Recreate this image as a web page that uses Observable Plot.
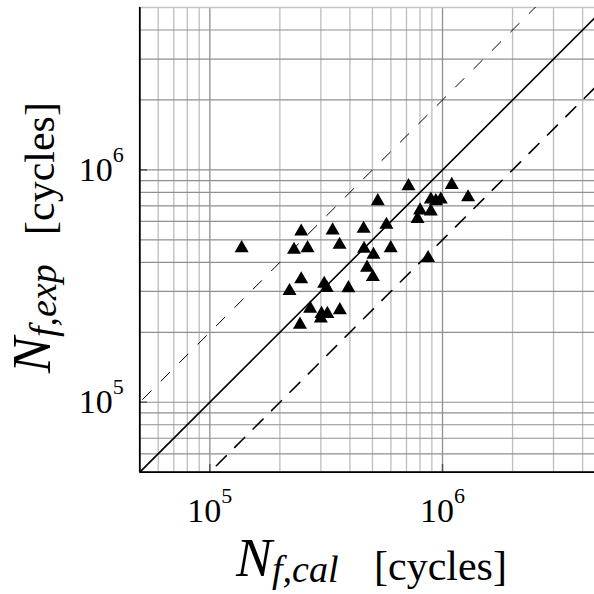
<!DOCTYPE html>
<html>
<head>
<meta charset="utf-8">
<script src="https://cdn.jsdelivr.net/npm/d3@7"></script>
<script src="https://cdn.jsdelivr.net/npm/@observablehq/plot@0.6"></script>
<style>
  html, body { margin: 0; padding: 0; background: #fff; overflow: hidden; }
  svg { display: block; }
</style>
</head>
<body>
<div id="chart"></div>
<script>
// Calculated fatigue life (x) and experimental fatigue life (y), cycles
const nfCal = [1.37e5, 2.47e5, 3.37e5, 2.30e5, 2.63e5, 3.61e5, 4.58e5, 5.27e5, 7.14e5, 1.096e6,
               1.288e6, 8.91e5, 9.36e5, 9.83e5, 8.01e5, 8.91e5, 7.81e5, 5.74e5, 4.60e5, 5.05e5,
               5.99e5, 4.74e5, 5.02e5, 8.67e5, 2.47e5, 2.20e5, 3.10e5, 3.18e5, 3.94e5, 2.70e5,
               3.02e5, 3.20e5, 3.62e5, 2.44e5, 3.00e5];
const nfExp = [4.70e5, 5.54e5, 5.60e5, 4.62e5, 4.70e5, 4.86e5, 5.69e5, 7.48e5, 8.68e5, 8.79e5,
               7.78e5, 7.61e5, 7.48e5, 7.61e5, 6.83e5, 6.76e5, 6.28e5, 5.92e5, 4.67e5, 4.40e5,
               4.70e5, 3.87e5, 3.53e5, 4.26e5, 3.45e5, 3.07e5, 3.30e5, 3.17e5, 3.16e5, 2.58e5,
               2.45e5, 2.45e5, 2.54e5, 2.20e5, 2.34e5];

// axis extents and ticks
const xDomain = [5e4, 4.5e6];
const yDomain = [5e4, 5e6];
const majorTicks = [1e5, 1e6];
const xGridTicks = [5e4, 6e4, 7e4, 8e4, 9e4, 1e5, 2e5, 3e5, 4e5, 5e5, 6e5, 7e5, 8e5, 9e5, 1e6, 2e6, 3e6, 4e6];
const yGridTicks = [5e4, 6e4, 7e4, 8e4, 9e4, 1e5, 2e5, 3e5, 4e5, 5e5, 6e5, 7e5, 8e5, 9e5, 1e6, 2e6, 3e6, 4e6];
const topLine = [5e6];

// scatter band: y = factor * x
const bandFactors = [1, 2, 0.5];
const lineSpan = [1e4, 1e7];

const points = nfCal.map((x, i) => ({x, y: nfExp[i]}));
const refLine = f => lineSpan.map(v => ({x: v, y: v * f}));

const serif = "'Liberation Serif', 'Times New Roman', Times, serif";

const plot = Plot.plot({
  width: 594,
  height: 594,
  marginLeft: 139.3,
  marginRight: 0,
  marginTop: 7,
  marginBottom: 122.3,
  style: {fontFamily: serif, fontSize: "34px", background: "#fff", color: "#000"},
  x: {type: "log", domain: xDomain},
  y: {type: "log", domain: yDomain},
  marks: [
    Plot.gridX(xGridTicks.filter(d => !majorTicks.includes(d)), {stroke: "#bdbdbd", strokeOpacity: 1, strokeWidth: 1.3}),
    Plot.gridX(majorTicks, {stroke: "#8f8f8f", strokeOpacity: 1, strokeWidth: 1.3}),
    Plot.gridY(yGridTicks, {stroke: "#8f8f8f", strokeOpacity: 1, strokeWidth: 1.2}),
    Plot.gridY(topLine, {stroke: "#c4c4c4", strokeOpacity: 1, strokeWidth: 1.5}),
    Plot.tickX(majorTicks, {insetTop: 457, stroke: "#555", strokeWidth: 1.5}),
    Plot.tickY(majorTicks, {insetRight: 447, stroke: "#555", strokeWidth: 1.5}),
    Plot.line(refLine(bandFactors[0]), {x: "x", y: "y", stroke: "#000", strokeWidth: 1.6, clip: true}),
    Plot.line(refLine(bandFactors[1]), {x: "x", y: "y", stroke: "#000", strokeWidth: 1, strokeDasharray: "12,14", clip: true}),
    Plot.line(refLine(bandFactors[2]), {x: "x", y: "y", stroke: "#000", strokeWidth: 1.6, strokeDasharray: "14,12", clip: true}),
    Plot.ruleX([xDomain[0]], {stroke: "#000", strokeWidth: 1.8}),
    Plot.ruleY([yDomain[0]], {stroke: "#000", strokeWidth: 1.8}),
    Plot.dot(points, {x: "x", y: "y", symbol: "triangle", r: 5.2, fill: "#000", stroke: "none", dy: 2}),
    Plot.axisX(majorTicks, {tickSize: 0, tickPadding: 26, label: null, tickFormat: d => String(Math.round(Math.log10(d))), fontSize: 34}),
    Plot.axisY(majorTicks, {tickSize: 0, tickPadding: 16, label: null, tickFormat: d => String(Math.round(Math.log10(d))), fontSize: 34})
  ]
});

document.getElementById("chart").appendChild(plot);
const svg = d3.select(plot);

// superscript tick labels 10^n
svg.selectAll('g[aria-label="x-axis tick label"] text, g[aria-label="y-axis tick label"] text').each(function () {
  const e = this.textContent;
  const t = d3.select(this);
  t.text("");
  t.append("tspan").text("10");
  t.append("tspan").attr("dy", -19).attr("font-size", 22).text(e);
});

// axis titles
function axisTitle(g, sub) {
  g.attr("font-family", serif).attr("fill", "#000").attr("text-anchor", "start");
  g.append("tspan").attr("font-style", "italic").attr("font-size", 54).text("N");
  g.append("tspan").attr("font-style", "italic").attr("font-size", 38).attr("dy", 6).text(sub);
  g.append("tspan").attr("font-size", 42).attr("dy", -2).attr("x", 138).text("[cycles]");
}
const xt = svg.append("text").attr("transform", "translate(236,576)").attr("x", 0).attr("y", 0);
axisTitle(xt, "f,cal");
const yt = svg.append("text").attr("transform", "translate(50,373) rotate(-90)").attr("x", 0).attr("y", 0);
axisTitle(yt, "f,exp");
</script>
</body>
</html>
